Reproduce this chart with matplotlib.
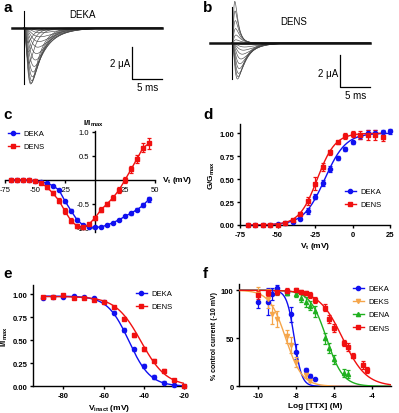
import numpy as np
import matplotlib
matplotlib.use('Agg')
import matplotlib.pyplot as plt
from matplotlib.lines import Line2D

W, H = 399, 414

plt.rcParams['font.family'] = ['Liberation Sans', 'DejaVu Sans']
plt.rcParams['mathtext.fontset'] = 'custom'
plt.rcParams['mathtext.rm'] = 'Liberation Sans:bold'
plt.rcParams['mathtext.it'] = 'Liberation Sans:bold'
plt.rcParams['mathtext.default'] = 'rm'

BLUE = '#1010f0'
RED = '#f01010'
ORANGE = '#f5a54a'
GREEN = '#20b020'

# ---- a / b : current traces (per sweep: amplitude uA, tau_m ms, tau_h ms)
a_amps = [-3.5, -3.45, -3.3, -3.05, -2.75, -2.4, -2.0, -1.6, -1.2, -0.85, -0.55, -0.3, -0.15, -2.2, -1.5, -0.9]
a_taum = [0.5, 0.55, 0.6, 0.65, 0.7, 0.8, 0.9, 1.0, 1.1, 1.2, 1.3, 1.4, 1.5, 0.35, 0.3, 0.28]
a_tauh = [1.4, 1.5, 1.6, 1.7, 1.8, 2.0, 2.2, 2.4, 2.6, 2.8, 3.0, 3.0, 3.0, 1.1, 1.0, 0.9]

b_amps = [2.6, 2.0, 1.4, 0.9, 0.5, 0.2, -2.25, -2.1, -1.9, -1.6, -1.3, -1.0, -0.7, -0.45, -0.25, -0.1]
b_taum = [0.22, 0.24, 0.26, 0.28, 0.3, 0.3, 0.4, 0.45, 0.5, 0.55, 0.6, 0.7, 0.8, 0.9, 1.0, 1.1]
b_tauh = [0.55, 0.6, 0.65, 0.7, 0.8, 0.8, 1.2, 1.3, 1.4, 1.5, 1.6, 1.8, 2.0, 2.2, 2.4, 2.6]

# ---- c : I-V
c_v = [-70, -65, -60, -55, -50, -45, -40, -35, -30, -25, -20, -15, -10, -5, 0, 5, 10, 15, 20, 25, 30, 35, 40, 45]
c_deka = [0, 0, 0, -0.01, -0.02, -0.04, -0.07, -0.12, -0.21, -0.44, -0.64, -0.83, -0.94, -0.985, -0.985, -0.98,
          -0.94, -0.89, -0.83, -0.76, -0.69, -0.62, -0.53, -0.40]
c_deka_err = [0.01, 0.01, 0.01, 0.01, 0.01, 0.01, 0.02, 0.02, 0.03, 0.03, 0.03, 0.03, 0.02, 0.02, 0.02, 0.02,
              0.02, 0.02, 0.02, 0.02, 0.03, 0.03, 0.04, 0.05]
c_dens = [0, 0, 0, 0, -0.02, -0.06, -0.15, -0.28, -0.43, -0.65, -0.85, -0.96, -0.99, -0.92, -0.79, -0.62,
          -0.50, -0.37, -0.21, 0.0, 0.22, 0.44, 0.67, 0.76]
c_dens_err = [0.01, 0.01, 0.01, 0.01, 0.02, 0.02, 0.03, 0.04, 0.05, 0.06, 0.05, 0.04, 0.03, 0.03, 0.04, 0.05,
              0.05, 0.05, 0.06, 0.07, 0.08, 0.09, 0.09, 0.12]

# ---- d : conductance-voltage
d_v_deka = [-70, -65, -60, -55, -50, -45, -40, -35, -30, -25, -20, -15, -10, -5, 0, 5, 10, 15, 20, 25]
d_deka = [0, 0, 0, 0.005, 0.01, 0.02, 0.03, 0.07, 0.15, 0.31, 0.46, 0.61, 0.73, 0.83, 0.90, 0.965, 1.0, 1.0, 1.01, 1.02]
d_deka_err = [0.005, 0.005, 0.005, 0.005, 0.005, 0.01, 0.01, 0.02, 0.03, 0.03, 0.03, 0.03, 0.02, 0.02, 0.02,
              0.03, 0.03, 0.03, 0.03, 0.03]
d_v_dens = [-70, -65, -60, -55, -50, -45, -40, -35, -30, -25, -20, -15, -10, -5, 0, 5, 10, 15, 20]
d_dens = [0, 0, 0, 0, 0.005, 0.02, 0.05, 0.12, 0.26, 0.45, 0.63, 0.79, 0.90, 0.97, 0.99, 0.98, 0.98, 0.98, 0.96]
d_dens_err = [0.005, 0.005, 0.005, 0.005, 0.005, 0.01, 0.01, 0.02, 0.04, 0.07, 0.04, 0.03, 0.02, 0.03, 0.03,
              0.04, 0.05, 0.05, 0.05]
d_fit = {'DEKA': (-18.5, 7.0), 'DENS': (-23.5, 6.0)}   # V1/2, slope

# ---- e : steady-state inactivation
e_v = [-90, -85, -80, -75, -70, -65, -60, -55, -50, -45, -40, -35, -30, -25, -20]
e_deka = [0.96, 0.97, 0.975, 0.98, 0.975, 0.955, 0.92, 0.80, 0.61, 0.40, 0.22, 0.10, 0.04, 0.015, 0.0]
e_dens = [0.97, 0.975, 0.99, 0.96, 0.96, 0.94, 0.92, 0.86, 0.735, 0.56, 0.405, 0.28, 0.17, 0.065, 0.0]
e_err = [0.01, 0.01, 0.01, 0.01, 0.01, 0.01, 0.01, 0.015, 0.02, 0.02, 0.02, 0.02, 0.02, 0.015, 0.01]
e_fit = {'DEKA': (0.98, -47.5, 5.3), 'DENS': (0.975, -41.5, 6.3)}   # top, V1/2, slope

# ---- f : TTX dose-response
f_deka_x = [-10, -9.5, -9.25, -9, -8.5, -8.25, -8, -7.5, -7.25, -7]
f_deka = [88, 88, 96, 102, 98, 75, 36, 17, 11, 8]
f_deka_err = [6, 14, 6, 3, 3, 8, 8, 2, 2, 1]
f_deks_x = [-10, -9.5, -9.25, -9, -8.5, -8.25, -8, -7.5, -7.25]
f_deks = [96, 91, 75, 70, 52, 43, 25, 12, 6]
f_deks_err = [7, 10, 10, 8, 7, 8, 5, 3, 2]
f_dena_x = [-9, -8.5, -8, -7.75, -7.5, -7.25, -7, -6.5, -6.25, -6, -5.5, -5.25]
f_dena = [98, 97, 96, 92, 88, 84, 78, 50, 40, 28, 14, 13]
f_dena_err = [2, 2, 3, 4, 5, 5, 6, 6, 5, 5, 4, 4]
f_dens_x = [-10, -9.5, -9, -8.5, -8, -7.75, -7.5, -7.25, -7, -6.5, -6.25, -6, -5.5, -5.25, -5, -4.5, -4.25]
f_dens = [95, 97, 98, 99, 100, 98, 97, 95, 90, 82, 70, 61, 45, 41, 32, 22, 17]
f_dens_err = [4, 3, 3, 3, 2, 2, 2, 3, 3, 4, 4, 4, 3, 4, 3, 4, 3]
f_fit = {'DEKA': (-8.1, 2.2), 'DEKS': (-8.55, 1.0), 'DENA': (-6.4, 1.0), 'DENS': (-5.55, 0.7)}  # logIC50, Hill


fig = plt.figure(figsize=(W / 100, H / 100), dpi=100)


def px_axes(x0, y0, x1, y1):
    return fig.add_axes([x0 / W, 1 - y1 / H, (x1 - x0) / W, (y1 - y0) / H])


def prism(ax, xt, yt, xl, yl, fs=5.5):
    for s in ['top', 'right']:
        ax.spines[s].set_visible(False)
    for s in ['left', 'bottom']:
        ax.spines[s].set_linewidth(1.0)
    ax.tick_params(width=1.0, length=2.5, pad=1.5, labelsize=fs)
    ax.set_xticks(xt)
    ax.set_xticklabels(xl, fontweight='bold')
    ax.set_yticks(yt)
    ax.set_yticklabels(yl, fontweight='bold')


def legend(ax, entries, x, y, fs=5.5, spacing=0.75):
    handles = [Line2D([], [], color=c, marker=m, ms=3, lw=1) for c, m, _ in entries]
    ax.legend(handles, [lab for _, _, lab in entries], loc='upper left', bbox_to_anchor=(x / W, 1 - y / H),
              bbox_transform=fig.transFigure, frameon=False, fontsize=fs, handlelength=1.4,
              handletextpad=0.6, labelspacing=spacing, borderpad=0, borderaxespad=0)


def series(ax, x, y, err, color, marker):
    ax.errorbar(x, y, yerr=err, color=color, marker=marker, ms=3, lw=0, elinewidth=0.9, capsize=1.5,
                capthick=0.9, clip_on=False, zorder=4)


def traces(ax, amps, taum, tauh, t_start):
    t = np.linspace(0, 23, 900)
    ax.plot([t_start, 23], [0, 0], color='#111111', lw=1.8, zorder=3)
    for A, tm, th in zip(amps, taum, tauh):
        s = (1 - np.exp(-t / tm)) ** 3 * np.exp(-t / th)
        ax.plot(t, A * s / s.max(), color='#4a4a4a', lw=0.45, zorder=2)
    ax.set_axis_off()


def scalebar(ax, t0, y0, y1, label_t, label_y, ms_y):
    ax.plot([t0, t0, t0 + 5], [y0, y1, y1], color='k', lw=0.9, clip_on=False)
    ax.text(t0 - 0.3, label_t, '2 μA', ha='right', va='center', fontsize=7)
    ax.text(t0 + 2.6, ms_y, '5 ms', ha='center', va='center', fontsize=7)


# ---------------- a
ax_a = px_axes(6, 0.2, 168, 93)
traces(ax_a, a_amps, a_taum, a_tauh, -2.0)
ax_a.plot([0, 0], [1.05, -3.5], color='k', lw=0.8)
ax_a.set_xlim(-3, 24)
ax_a.set_ylim(-4.0, 1.8)
ax_a.text(9.8, 0.875, 'DEKA', ha='center', va='center', fontsize=7)
scalebar(ax_a, 18, -1.19, -3.19, -2.2, -2.2, -3.69)

# ---------------- b
ax_b = px_axes(205, 0.8, 376, 96.8)
traces(ax_b, b_amps, b_taum, b_tauh, -3.7)
ax_b.plot([0, 0], [2.25, -2.25], color='k', lw=0.8)
ax_b.set_xlim(-4.5, 24)
ax_b.set_ylim(-3.3, 2.7)
ax_b.text(10.3, 1.375, 'DENS', ha='center', va='center', fontsize=7)
scalebar(ax_b, 18, -0.75, -2.75, -1.875, -1.875, -3.25)

# ---------------- c
ax_c = px_axes(5, 132, 155, 232.8)
ax_c.plot(c_v, c_deka, color=BLUE, lw=1, zorder=3, clip_on=False)
ax_c.plot(c_v, c_dens, color=RED, lw=1, zorder=3, clip_on=False)
series(ax_c, c_v, c_deka, c_deka_err, BLUE, 'o')
series(ax_c, c_v, c_dens, c_dens_err, RED, 's')
ax_c.set_xlim(-75, 50)
ax_c.set_ylim(-1.08, 1.02)
prism(ax_c, [-75, -50, -25, 25, 50], [-1.0, -0.5, 0.5, 1.0],
      ['-75', '-50', '-25', '25', '50'], ['-1.0', '-0.5', '0.5', '1.0'])
ax_c.spines['left'].set_position(('data', 0))
ax_c.spines['bottom'].set_position(('data', 0))
ax_c.text(56, 0, 'V$_t$ (mV)', ha='left', va='center', fontsize=6, fontweight='bold')
ax_c.text(-1.7, 1.19, 'I/I$_{max}$', ha='center', va='center', fontsize=6, fontweight='bold')
legend(ax_c, [(BLUE, 'o', 'DEKA'), (RED, 's', 'DENS')], 8, 131)

# ---------------- d
ax_d = px_axes(240, 125, 390, 226)
vv = np.linspace(-70, 25, 300)
for (name, (vh, k)), color, vmax in zip(d_fit.items(), [BLUE, RED], [25, 20]):
    vfit = vv[vv <= vmax]
    ax_d.plot(vfit, 1 / (1 + np.exp((vh - vfit) / k)), color=color, lw=1, zorder=3)
series(ax_d, d_v_deka, d_deka, d_deka_err, BLUE, 'o')
series(ax_d, d_v_dens, d_dens, d_dens_err, RED, 's')
ax_d.set_xlim(-75, 25)
ax_d.set_ylim(0, 1.1)
prism(ax_d, [-75, -50, -25, 0, 25], [0, 0.25, 0.5, 0.75, 1.0],
      ['-75', '-50', '-25', '0', '25'], ['0.00', '0.25', '0.50', '0.75', '1.00'])
ax_d.set_xlabel('V$_t$ (mV)', fontsize=6, fontweight='bold', labelpad=2)
ax_d.set_ylabel('G/G$_{max}$', fontsize=6, fontweight='bold', labelpad=2)
legend(ax_d, [(BLUE, 'o', 'DEKA'), (RED, 's', 'DENS')], 345, 189)

# ---------------- e
ax_e = px_axes(33.3, 286, 184.3, 387.3)
ve = np.linspace(-90, -20, 300)
for (name, (top, vh, k)), color in zip(e_fit.items(), [BLUE, RED]):
    ax_e.plot(ve, top / (1 + np.exp((ve - vh) / k)), color=color, lw=1, zorder=3)
series(ax_e, e_v, e_deka, e_err, BLUE, 'o')
series(ax_e, e_v, e_dens, e_err, RED, 's')
ax_e.set_xlim(-95, -20)
ax_e.set_ylim(0, 1.1)
prism(ax_e, [-80, -60, -40, -20], [0, 0.25, 0.5, 0.75, 1.0],
      ['-80', '-60', '-40', '-20'], ['0.00', '0.25', '0.50', '0.75', '1.00'])
ax_e.set_xlabel('V$_{inact}$ (mV)', fontsize=6, fontweight='bold', labelpad=2)
ax_e.set_ylabel('I/I$_{max}$', fontsize=6, fontweight='bold', labelpad=2)
legend(ax_e, [(BLUE, 'o', 'DEKA'), (RED, 's', 'DENS')], 136, 291)

# ---------------- f
ax_f = px_axes(239.3, 285, 391, 387.3)
xf = np.linspace(-11, -3, 400)
f_colors = {'DEKA': BLUE, 'DEKS': ORANGE, 'DENA': GREEN, 'DENS': RED}
for name, (ic, hill) in f_fit.items():
    ax_f.plot(xf, 100 / (1 + 10 ** ((xf - ic) * hill)), color=f_colors[name], lw=1, zorder=3)
series(ax_f, f_deka_x, f_deka, f_deka_err, BLUE, 'o')
series(ax_f, f_deks_x, f_deks, f_deks_err, ORANGE, 'v')
series(ax_f, f_dena_x, f_dena, f_dena_err, GREEN, '^')
series(ax_f, f_dens_x, f_dens, f_dens_err, RED, 's')
ax_f.set_xlim(-11, -3)
ax_f.set_ylim(0, 106.5)
prism(ax_f, [-10, -8, -6, -4], [0, 50, 100], ['-10', '-8', '-6', '-4'], ['0', '50', '100'])
ax_f.set_xlabel('Log [TTX] (M)', fontsize=6, fontweight='bold', labelpad=2)
ax_f.set_ylabel('% control current (-10 mV)', fontsize=5, fontweight='bold', labelpad=2)
legend(ax_f, [(BLUE, 'o', 'DEKA'), (ORANGE, 'v', 'DEKS'), (GREEN, '^', 'DENA'), (RED, 's', 'DENS')], 353, 286)

# panel letters
for letter, x, y in [('a', 3, 12), ('b', 203, 12), ('c', 3, 119), ('d', 203, 119), ('e', 3, 278), ('f', 203, 278)]:
    fig.text(x / W, 1 - y / H, letter, fontsize=11, fontweight='bold', ha='left', va='baseline')

fig.savefig('out.png', dpi=100)
